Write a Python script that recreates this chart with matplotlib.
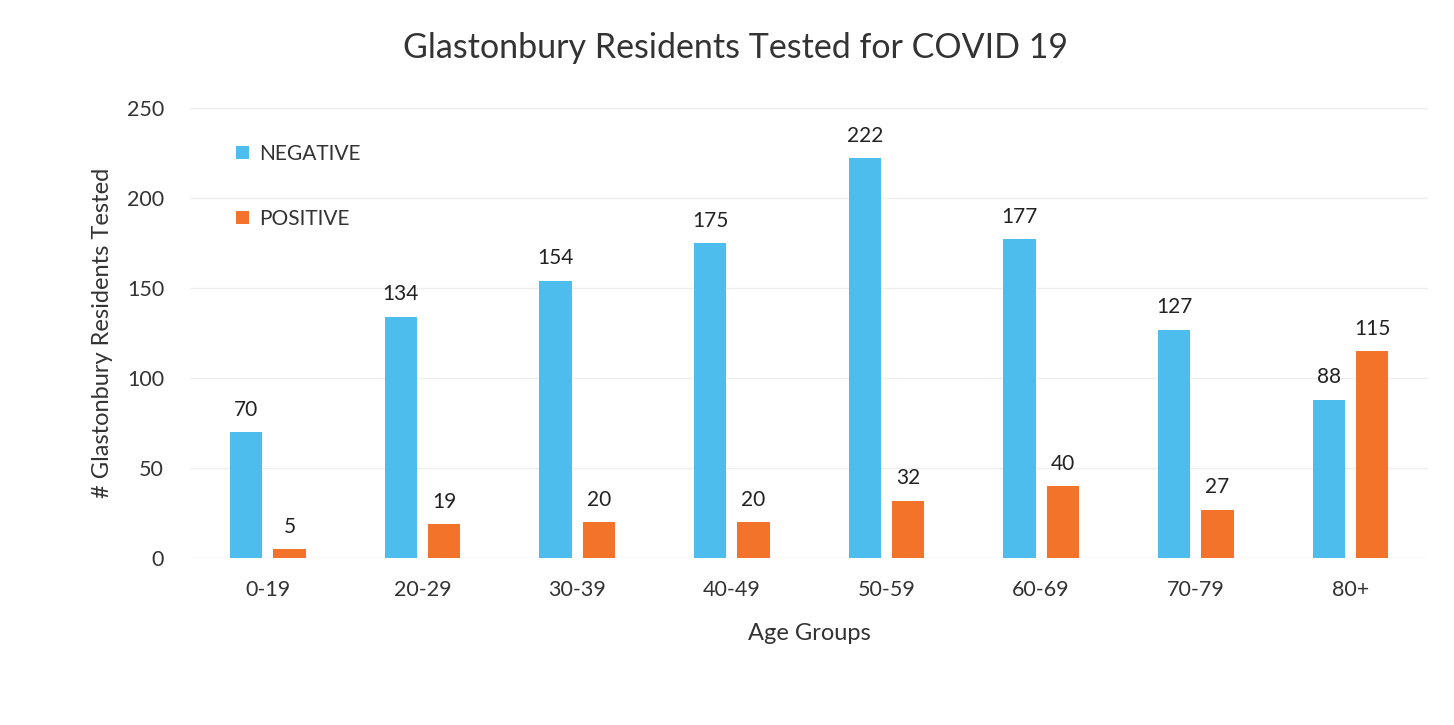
import numpy as np
import matplotlib.pyplot as plt

# data
age_groups = ['0-19', '20-29', '30-39', '40-49', '50-59', '60-69', '70-79', '80+']
negative = [70, 134, 154, 175, 222, 177, 127, 88]
positive = [5, 19, 20, 20, 32, 40, 27, 115]

blue = '#4DBDEE'
orange = '#F4732A'
txt = '#333333'

plt.rcParams['font.family'] = ['Lato', 'DejaVu Sans']

fig = plt.figure(figsize=(14.54, 7.25), dpi=100)
ax = fig.add_axes([0.131, 0.230, 0.851, 0.621])

x = np.arange(len(age_groups))
w = 0.21
b1 = ax.bar(x - 0.14, negative, w, color=blue, label='NEGATIVE')
b2 = ax.bar(x + 0.14, positive, w, color=orange, label='POSITIVE')

for bars in (b1, b2):
    for b in bars:
        ax.annotate(str(int(b.get_height())), (b.get_x() + b.get_width() / 2, b.get_height()),
                    xytext=(0, 9), textcoords='offset points', ha='center', va='bottom',
                    fontsize=15, color='#222222')

ax.set_xlim(-0.5, len(age_groups) - 0.5)
ax.set_ylim(0, 250)
ax.set_yticks(range(0, 251, 50))
ax.set_xticks(x)
ax.set_xticklabels(age_groups)
ax.tick_params(axis='both', length=0, labelsize=15.5, colors=txt)
ax.tick_params(axis='x', pad=16)
ax.tick_params(axis='y', pad=19)
ax.yaxis.grid(True, color='#EEEEEE', linewidth=1)
ax.set_axisbelow(True)
for s in ax.spines.values():
    s.set_visible(False)

ax.set_xlabel('Age Groups', fontsize=17, color=txt, va='center')
ax.set_ylabel('# Glastonbury Residents Tested', fontsize=17, color=txt, va='center')
ax.xaxis.set_label_coords(0.5, -0.167)
ax.yaxis.set_label_coords(-0.071, 0.5)
fig.text(0.506, 0.934, 'Glastonbury Residents Tested for COVID 19', ha='center', va='center',
         fontsize=24.5, color=txt)

ax.legend(loc='upper left', bbox_to_anchor=(0.022, 0.962), frameon=False, fontsize=15,
          handlelength=0.6, handleheight=0.6, handletextpad=0.5, labelspacing=2.15,
          labelcolor=txt)

fig.savefig('out.png', dpi=100, facecolor='white')
